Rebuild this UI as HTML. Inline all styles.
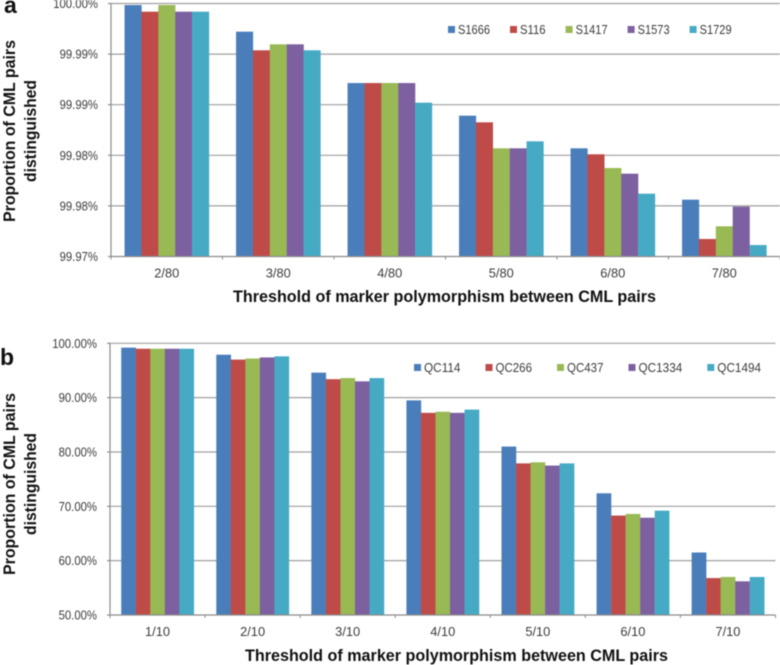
<!DOCTYPE html>
<html lang="en">
<head>
<meta charset="utf-8">
<title>Proportion of CML pairs distinguished</title>
<style>
html,body{margin:0;padding:0;background:#fff;width:780px;height:665px;overflow:hidden}
svg{display:block;filter:blur(0.5px)}
text{font-family:"Liberation Sans",sans-serif}
</style>
</head>
<body>
<svg id="figure" xmlns="http://www.w3.org/2000/svg" width="780" height="665" viewBox="0 0 780 665"></svg>
<script>
const seriesColors = ['#4a7ebb', '#be4b48', '#98b954', '#7d60a0', '#46aac5'];

const categoriesA = ['2/80', '3/80', '4/80', '5/80', '6/80', '7/80'];
const seriesNamesA = ['S1666', 'S116', 'S1417', 'S1573', 'S1729'];
const tickLabelsA = ['100.00%', '99.99%', '99.99%', '99.98%', '99.98%', '99.97%'];
const S1666 = [99.99982, 99.99666, 99.99057, 99.98670, 99.98283, 99.97674];
const S116 = [99.99903, 99.99445, 99.99057, 99.98591, 99.98212, 99.97208];
const S1417 = [99.99982, 99.99516, 99.99057, 99.98283, 99.98049, 99.97358];
const S1573 = [99.99903, 99.99516, 99.99057, 99.98283, 99.97982, 99.97591];
const S1729 = [99.99903, 99.99445, 99.98824, 99.98366, 99.97745, 99.97136];

const categoriesB = ['1/10', '2/10', '3/10', '4/10', '5/10', '6/10', '7/10'];
const seriesNamesB = ['QC114', 'QC266', 'QC437', 'QC1334', 'QC1494'];
const tickLabelsB = ['100.00%', '90.00%', '80.00%', '70.00%', '60.00%', '50.00%'];
const QC114 = [99.2, 97.9, 94.6, 89.5, 81.0, 72.4, 61.5];
const QC266 = [99.0, 97.0, 93.4, 87.2, 77.9, 68.3, 56.8];
const QC437 = [99.0, 97.2, 93.6, 87.4, 78.1, 68.6, 57.0];
const QC1334 = [99.0, 97.4, 93.0, 87.2, 77.5, 67.9, 56.2];
const QC1494 = [99.0, 97.6, 93.6, 87.8, 77.9, 69.2, 57.0];

const NS = 'http://www.w3.org/2000/svg';
const svg = document.getElementById('figure');

function make(tag, attrs, text) {
  const el = document.createElementNS(NS, tag);
  for (const k in attrs) el.setAttribute(k, attrs[k]);
  if (text !== undefined) el.textContent = text;
  return el;
}

function drawPanel(cfg) {
  const panel = make('g', {});
  
  
  svg.appendChild(panel);

  const y = v => cfg.bottom - (v - cfg.min) / (cfg.max - cfg.min) * (cfg.bottom - cfg.top);
  const band = (cfg.right - cfg.left) / cfg.categories.length;
  const x = i => cfg.left + band * i;
  const barW = band * cfg.barFrac / cfg.series.length;
  const pad = band * (1 - cfg.barFrac) / 2;

  // gridlines and y ticks
  cfg.tickLabels.forEach((lab, i) => {
    const gy = cfg.top + (cfg.bottom - cfg.top) * i / (cfg.tickLabels.length - 1);
    if (i < cfg.tickLabels.length - 1) {
      const grid = make('line', {x1: cfg.left, x2: cfg.right, y1: gy, y2: gy, stroke: '#a0a0a0', 'stroke-width': 1.2});
      
      
      panel.appendChild(grid);
    }
    const tick = make('line', {x1: cfg.left - 3, x2: cfg.left, y1: gy, y2: gy, stroke: '#8c8c8c', 'stroke-width': 1.2});
    
    
    panel.appendChild(tick);
    const t = make('text', {x: cfg.left - 13, y: gy + 4.5, 'text-anchor': 'end', 'font-size': 13, fill: '#3c3c3c',
      textLength: lab.length * 6.4, lengthAdjust: 'spacingAndGlyphs'}, lab);
    
    
    panel.appendChild(t);
  });

  // bars
  cfg.series.forEach((vals, s) => {
    vals.forEach((v, c) => {
      const top = y(v);
      const r = make('rect', {x: x(c) + pad + barW * s, y: top, width: barW + 0.2, height: cfg.bottom - top, fill: seriesColors[s]});
      
      
      panel.appendChild(r);
    });
  });

  // axes
  const yAxis = make('line', {x1: cfg.left, x2: cfg.left, y1: cfg.top, y2: cfg.bottom, stroke: '#8c8c8c', 'stroke-width': 1.2});
  
  
  panel.appendChild(yAxis);
  const xAxis = make('line', {x1: cfg.left, x2: cfg.right, y1: cfg.bottom, y2: cfg.bottom, stroke: '#8c8c8c', 'stroke-width': 1.2});
  
  
  panel.appendChild(xAxis);

  for (let i = 0; i <= cfg.categories.length; i++) {
    const tick = make('line', {x1: x(i), x2: x(i), y1: cfg.bottom, y2: cfg.bottom + 3, stroke: '#8c8c8c', 'stroke-width': 1});
    
    
    panel.appendChild(tick);
  }

  cfg.categories.forEach((c, i) => {
    const t = make('text', {x: x(i) + band / 2, y: cfg.bottom + 21, 'text-anchor': 'middle', 'font-size': 13, fill: '#3c3c3c',
      textLength: 25, lengthAdjust: 'spacingAndGlyphs'}, c);
    
    
    panel.appendChild(t);
  });

  // x axis title
  const xTitle = make('text', {x: cfg.xTitleX, y: cfg.xTitleY, 'font-size': 17, 'font-weight': 'bold', fill: '#111',
    textLength: 423, lengthAdjust: 'spacingAndGlyphs'}, 'Threshold of marker polymorphism between CML pairs');
  
  
  panel.appendChild(xTitle);

  // y axis title
  const yTitle1 = make('text', {transform: 'translate(15,' + cfg.yTitleCenter + ') rotate(-90)', 'text-anchor': 'middle', 'font-size': 17, fill: '#111', 'font-weight': 'bold',
    textLength: 182, lengthAdjust: 'spacingAndGlyphs'}, 'Proportion of CML pairs');
  
  
  panel.appendChild(yTitle1);
  const yTitle2 = make('text', {transform: 'translate(36,' + cfg.yTitleCenter + ') rotate(-90)', 'text-anchor': 'middle', 'font-size': 17, fill: '#111', 'font-weight': 'bold',
    textLength: 102, lengthAdjust: 'spacingAndGlyphs'}, 'distinguished');
  
  
  panel.appendChild(yTitle2);

  // panel letter
  const letter = make('text', {x: cfg.letterX, y: cfg.letterY, 'font-size': 23, 'font-weight': 'bold', fill: '#111'}, cfg.id);
  
  
  panel.appendChild(letter);

  // legend
  const legend = make('g', {});
  
  
  panel.appendChild(legend);
  let lx = cfg.legendX;
  cfg.seriesNames.forEach((n, s) => {
    const w = n.length * cfg.legendCharW;
    const sw = make('rect', {x: lx, y: cfg.legendY - 7, width: 7, height: 7, fill: seriesColors[s]});
    
    
    legend.appendChild(sw);
    const t = make('text', {x: lx + 10, y: cfg.legendY + 1, 'font-size': 13, fill: '#3c3c3c',
      textLength: w, lengthAdjust: 'spacingAndGlyphs'}, n);
    
    
    legend.appendChild(t);
    lx += w + cfg.legendGap;
  });
}

drawPanel({
  id: 'a', left: 111, right: 780, top: 3.5, bottom: 256.5, min: 99.97, max: 100,
  categories: categoriesA, seriesNames: seriesNamesA, tickLabels: tickLabelsA,
  series: [S1666, S116, S1417, S1573, S1729], barFrac: 0.757,
  xTitleX: 233, xTitleY: 302, yTitleCenter: 131, letterX: 4, letterY: 13,
  legendX: 448, legendY: 33, legendCharW: 6.4, legendGap: 30
});

drawPanel({
  id: 'b', left: 110, right: 775.5, top: 343.3, bottom: 615, min: 50, max: 100,
  categories: categoriesB, seriesNames: seriesNamesB, tickLabels: tickLabelsB,
  series: [QC114, QC266, QC437, QC1334, QC1494], barFrac: 0.764,
  xTitleX: 245, xTitleY: 661, yTitleCenter: 484, letterX: 0, letterY: 365,
  legendX: 414, legendY: 371, legendCharW: 7.3, legendGap: 35
});
</script>
</body>
</html>
